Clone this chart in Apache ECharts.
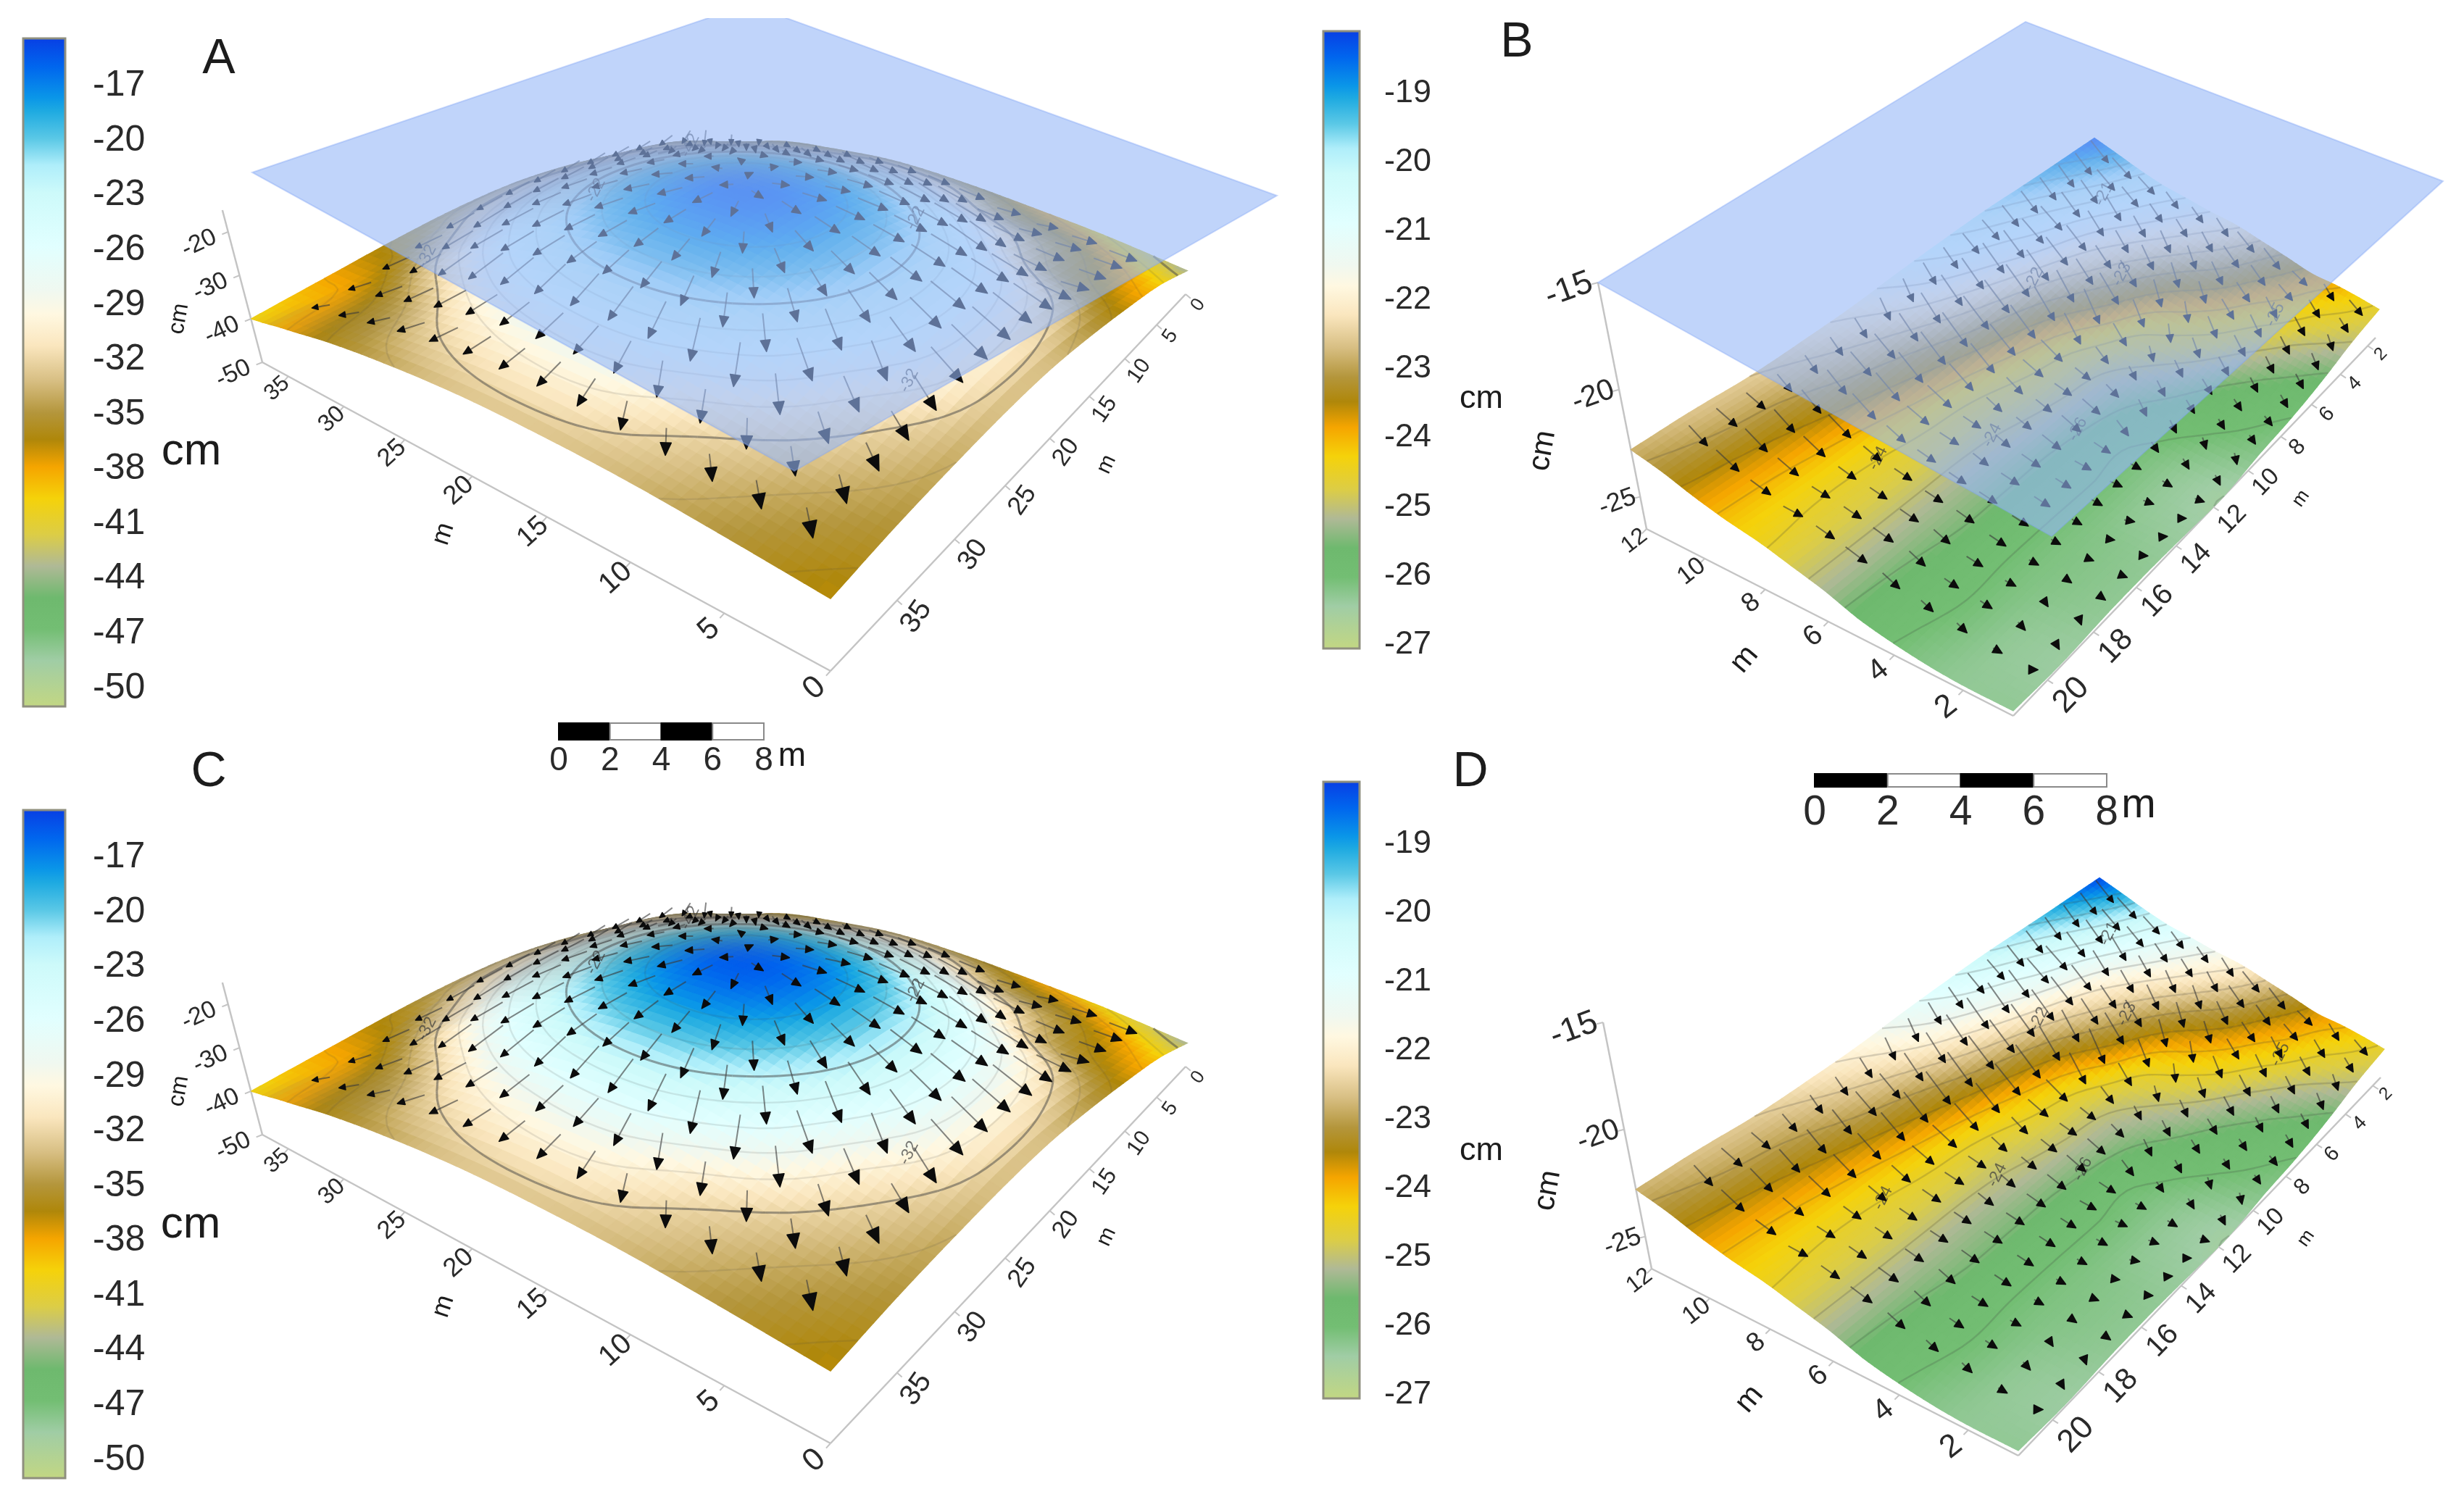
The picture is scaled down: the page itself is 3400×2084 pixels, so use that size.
<!DOCTYPE html>
<html><head><meta charset="utf-8">
<style>html,body{margin:0;padding:0;background:#fff}#c{width:3400px;height:2084px}</style>
<script src="https://cdn.jsdelivr.net/npm/echarts@6/dist/echarts.min.js"></script>
</head><body><div id="c"></div>
<script>
// ---------- values ----------
const moundA=[0,5,10,15,20,25,30,35,37.5];
const moundB=[0,5,10,15,20,25,30,35,40];
const moundHeights=[
[-43.5,-39.5,-37,-35,-33.6,-33.4,-34,-35,-36.7],
[-40,-36,-33.5,-28.2,-26.3,-27,-30.5,-33.2,-35],
[-37.5,-33.5,-27,-22.2,-20.5,-21.5,-25.2,-31,-33.6],
[-35.5,-29.5,-22.9,-18.3,-16.5,-18.1,-22.3,-28.5,-33],
[-34.5,-28.6,-22.1,-17.7,-15.8,-17.7,-22.1,-28.6,-33],
[-35.5,-30.3,-24.3,-20.2,-18.7,-20.2,-24.3,-30.3,-34],
[-37.5,-33,-28.8,-25,-23.8,-25,-28.8,-34,-35.8],
[-43,-36.5,-33.3,-31.6,-30.6,-31.6,-34.5,-37.5,-38.5],
[-44.5,-42,-37.5,-35,-34,-34.5,-36,-38,-40]];
const slopeA=[0.6,2,3,4,5,6,7,8,9,10,11,12];
const slopeB=[1.4,3.4,5.4,7.4,9.4,11.4,13.4,15.4,17.4,19.4,21.4];
const slopeHeights=[
[-24.6,-25,-25.6,-26,-26.2,-26.5,-26.4,-26.3,-26.3,-26.4,-26.3],
[-24,-24.6,-25.2,-25.7,-26,-26.3,-26.3,-26.2,-26.2,-26.3,-26.3],
[-23.7,-24.1,-24.8,-25.4,-25.8,-26.1,-26.1,-26.1,-26.1,-26.1,-26.2],
[-23.1,-23.7,-24.3,-25,-25.5,-25.9,-25.9,-25.9,-25.9,-25.9,-26],
[-22.5,-23.1,-23.9,-24.7,-25.2,-25.4,-25.5,-25.5,-25.5,-25.6,-25.7],
[-21.9,-22.6,-23.5,-24.4,-24.9,-25,-25.1,-25.2,-25.2,-25.2,-25.2],
[-21.5,-22.1,-22.9,-23.6,-24.4,-24.6,-24.8,-24.8,-24.8,-24.8,-24.8],
[-21,-21.6,-22.3,-22.9,-23.6,-24,-24.3,-24.4,-24.5,-24.5,-24.4],
[-20.5,-21,-21.7,-22.2,-22.7,-23.1,-23.5,-23.8,-24,-24.1,-24.1],
[-19.8,-20.3,-20.9,-21.3,-21.8,-22.3,-22.8,-23.1,-23.4,-23.6,-23.7],
[-19,-19.6,-20.2,-20.7,-21.1,-21.6,-22.2,-22.6,-22.9,-23,-23.2],
[-18.2,-18.9,-19.5,-20,-20.6,-21.2,-21.8,-22.2,-22.5,-22.6,-22.8]];
const moundATicks=[0,5,10,15,20,25,30,35];
const moundBTicks=[0,5,10,15,20,25,30,35];
const moundZTicks=[-50,-40,-30,-20];
const slopeATicks=[2,4,6,8,10,12];
const slopeBTicks=[2,4,6,8,10,12,14,16,18,20];
const slopeZTicks=[-25,-20,-15];
const moundLegendTicks=[-17,-20,-23,-26,-29,-32,-35,-38,-41,-44,-47,-50];
const slopeLegendTicks=[-19,-20,-21,-22,-23,-24,-25,-26,-27];
const scaleTicks=[0,2,4,6,8];
const moundContours=[-18,-20,-22,-24,-26,-28,-30,-32,-34,-36,-38,-40,-42,-44];
const moundMajor=[-22,-32,-42];
const slopeContours=[-19,-19.5,-20,-20.5,-21,-21.5,-22,-22.5,-23,-23.5,-24,-24.5,-25,-25.5,-26,-26.5];
const slopeMajor=[];
const moundArrowA=[2.5,5,7.5,10,12.5,15,17.5,20,22.5,25,27.5,30,32.5,35];
const moundArrowB=[2.5,5,7.5,10,12.5,15,17.5,20,22.5,25,27.5,30,32.5,35,37.5];
const slopeArrowA=[1,2,3,4,5,6,7,8,9,10,11];
const slopeArrowB=[2,3,4,5,6,7,8,9,10,11,12,13,14,15,16,17,18,19,20];
const moundContourLabels=[[27,23,-22],[11,14,-22],[33,31,-32],[4,27,-32],[36,3,-42]];
const slopeContourLabels=[[8,17,-24],[5,12,-26],[9.2,8.4,-22],[7.5,6,-23],[10,3.5,-21],[6.5,14,-24],[3,4,-25]];

// ---------- colours of the legend bar ----------
const rampPos=[0,.044,.09,.11,.151,.191,.232,.312,.379,.413,.46,.513,.56,.60,.641,.688,.742,.789,.836,.883,.93,1];
const rampCol=[[8,62,228],[0,102,238],[10,150,232],[30,170,225],[90,200,230],[175,238,250],[205,250,250],[225,255,255],[240,248,240],[255,248,225],[250,230,190],[215,190,130],[180,150,60],[175,135,10],[245,165,0],[245,210,10],[220,205,70],[175,185,150],[110,185,110],[115,190,115],[160,205,165],[195,215,130]];
function ramp(t,g){
  t=Math.max(0,Math.min(1,t));
  let i=1; while(i<rampPos.length-1&&rampPos[i]<t)i++;
  const f=(t-rampPos[i-1])/(rampPos[i]-rampPos[i-1]),p=rampCol[i-1],q=rampCol[i];
  const m=c=>Math.round((p[c]+(q[c]-p[c])*f)*(1-g)+120*g);
  return 'rgb('+m(0)+','+m(1)+','+m(2)+')';
}
const FONT='Liberation Sans',INK='#2a2a2a';

// ---------- surfaces ----------
const mound={A:moundA,B:moundB,H:moundHeights,top:-14.4,bot:-51,levels:moundContours,major:moundMajor,labels:moundContourLabels,
  arrowA:moundArrowA,arrowB:moundArrowB,arrowK:1.45,arrowMax:2.4,arrowPow:.5,rise:1.7,riseMin:.8,headA:.02,headB:.017,headPow:2,shade:.58,aT:moundATicks,bT:moundBTicks,zT:moundZTicks,N:64};
const slope={A:slopeA,B:slopeB,H:slopeHeights,top:-18.1,bot:-27.06,levels:slopeContours,major:slopeMajor,labels:slopeContourLabels,
  arrowA:slopeArrowA,arrowB:slopeArrowB,arrowK:1.3,arrowMax:1.1,arrowPow:1,rise:1,riseMin:0,headA:.19,headB:.18,headPow:1,shade:0,aT:slopeATicks,bT:slopeBTicks,zT:slopeZTicks,N:64};
function frac(nodes,v){let i=0;while(i<nodes.length-2&&nodes[i+1]<v)i++;return i+(v-nodes[i])/(nodes[i+1]-nodes[i]);}
function cub(p0,p1,p2,p3,t){return p1+.5*t*(p2-p0+t*(2*p0-5*p1+4*p2-p3+t*(3*(p1-p2)+p3-p0)));}
function rowAt(H,i,j){
  const n=H[0].length; i=Math.max(-1,Math.min(H.length,i));
  const r=i<0?null:i>=H.length?null:H[i];
  if(r){ if(j<0)return 2*r[0]-r[1]; if(j>=n)return 2*r[n-1]-r[n-2]; return r[j]; }
  const k=i<0?0:H.length-1,m=i<0?1:H.length-2;
  return 2*rowAt(H,k,j)-rowAt(H,m,j);
}
function zAt(S,a,b){
  const fi=frac(S.A,Math.max(S.A[0],Math.min(S.A[S.A.length-1],a))),fj=frac(S.B,Math.max(S.B[0],Math.min(S.B[S.B.length-1],b)));
  const i=Math.min(Math.floor(fi),S.A.length-2),j=Math.min(Math.floor(fj),S.B.length-2),u=fi-i,v=fj-j,c=[];
  for(let k=-1;k<3;k++)c.push(cub(rowAt(S.H,i+k,j-1),rowAt(S.H,i+k,j),rowAt(S.H,i+k,j+1),rowAt(S.H,i+k,j+2),v));
  return cub(c[0],c[1],c[2],c[3],u);
}
function buildMesh(S){
  const N=S.N,a0=S.A[0],a1=S.A[S.A.length-1],b0=S.B[0],b1=S.B[S.B.length-1];
  const as=[],bs=[],Z=[];
  for(let i=0;i<=N;i++)as.push(a0+(a1-a0)*i/N);
  for(let j=0;j<=N;j++)bs.push(b0+(b1-b0)*j/N);
  for(let i=0;i<=N;i++){Z.push([]);for(let j=0;j<=N;j++)Z[i].push(zAt(S,as[i],bs[j]));}
  S.cells=[];S.segs=[];
  for(let i=N-1;i>=0;i--)for(let j=0;j<N;j++){
    S.cells.push([as[i],as[i+1],bs[j],bs[j+1],Z[i][j],Z[i+1][j],Z[i+1][j+1],Z[i][j+1]]);
  }
  for(let i=0;i<N;i++)for(let j=0;j<N;j++){
    const q=[[as[i],bs[j],Z[i][j]],[as[i+1],bs[j],Z[i+1][j]],[as[i+1],bs[j+1],Z[i+1][j+1]],[as[i],bs[j+1],Z[i][j+1]]];
    S.levels.forEach(L=>{
      const pts=[];
      for(let e=0;e<4;e++){const p=q[e],r=q[(e+1)%4];
        if((p[2]<L)!==(r[2]<L)){const f=(L-p[2])/(r[2]-p[2]);pts.push([p[0]+(r[0]-p[0])*f,p[1]+(r[1]-p[1])*f]);}}
      if(pts.length>=2)S.segs.push([pts[0][0],pts[0][1],pts[1][0],pts[1][1],L,S.major.includes(L)?1:0]);
    });
  }
}
buildMesh(mound);buildMesh(slope);

// ---------- 3D frames (layout only) : right, back, left, front corners ----------
function homography(q){
  const [x0,y0]=q[0],[x1,y1]=q[1],[x2,y2]=q[2],[x3,y3]=q[3];
  const dx1=x1-x2,dx2=x3-x2,dx3=x0-x1+x2-x3,dy1=y1-y2,dy2=y3-y2,dy3=y0-y1+y2-y3,den=dx1*dy2-dx2*dy1;
  const g=(dx3*dy2-dx2*dy3)/den,h=(dx1*dy3-dx3*dy1)/den;
  const A=x1-x0+g*x1,B=x3-x0+h*x3,D=y1-y0+g*y1,E=y3-y0+h*y3;
  return (s,t)=>{const w=g*s+h*t+1;return [(A*s+B*t+x0)/w,(D*s+E*t+y0)/w];};
}
function shift(q,dx,dy){return q.map(p=>[p[0]+dx,p[1]+dy]);}
const moundBase=[[1636,406],[965,226],[362,500],[1146,926]],moundTop=[[1651,206],[962,34],[299,260],[1146,626]];
const slopeBase=[[3278,466],[2859,319],[2272,730],[2778,988]],slopeTop=[[3308,230],[2902,141],[2205,390],[2778,586]];
const moundTxt={aF:[44,30],bF:[42,26],zF:[34,34],aOff:[-22,24],bOff:[28,24],zOff:[-40,16],aRot:42,bRot:55,zRot:25};
const slopeTxt={aF:[46,32],bF:[46,24],zF:[36,46],aOff:[-24,24],bOff:[34,22],zOff:[-40,10],aRot:38,bRot:46,zRot:20};
const panels=[
 {S:mound,base:moundBase,top:moundTop,zB:-50,zT:-10,zAxisTop:-15,txt:moundTxt,rect:[200,25,1600,1015],plane:[[1762,270],[1033,6],[348,238],[1096,650]]},
 {S:slope,base:slopeBase,top:slopeTop,zB:-26.5,zT:-15,zAxisTop:-15,txt:slopeTxt,rect:[2000,0,1400,1050],plane:[[3371,250],[2795,30],[2205,390],[2831,740]]},
 {S:mound,base:shift(moundBase,0,1066),top:shift(moundTop,0,1066),zB:-50,zT:-10,zAxisTop:-15,txt:moundTxt,rect:[200,1040,1600,1044]},
 {S:slope,base:shift(slopeBase,7,1021),top:shift(slopeTop,7,1021),zB:-26.5,zT:-15,zAxisTop:-15,txt:slopeTxt,rect:[2000,1050,1400,1034]}
];
panels.forEach(p=>{
  const hb=homography(p.base),ht=homography(p.top),S=p.S;
  const a0=S.A[0],a1=S.A[S.A.length-1],b0=S.B[0],b1=S.B[S.B.length-1];
  p.a0=a0;p.a1=a1;p.b0=b0;p.b1=b1;
  p.P=(a,b,z)=>{const s=(a-a0)/(a1-a0),t=(b-b0)/(b1-b0),u=hb(s,t),v=ht(s,t),f=(z-p.zB)/(p.zT-p.zB);return [u[0]+(v[0]-u[0])*f,u[1]+(v[1]-u[1])*f];};
});

// ---------- series ----------
const grids=[],xAxes=[],yAxes=[],series=[];
function addGrid(r,x,y){grids.push({left:r[0],top:r[1],width:r[2],height:r[3],containLabel:false});
  xAxes.push(Object.assign({gridIndex:grids.length-1},x));yAxes.push(Object.assign({gridIndex:grids.length-1},y));return grids.length-1;}
const custom=(g,data,render,extra)=>Object.assign({type:'custom',coordinateSystem:'cartesian2d',xAxisIndex:g,yAxisIndex:g,data,renderItem:render,animation:false,silent:true,progressive:0,clip:false},extra||{});

panels.forEach((p,ix)=>{
  const r=p.rect,S=p.S;
  const g=addGrid(r,{type:'value',min:r[0],max:r[0]+r[2],show:false},{type:'value',inverse:true,min:r[1],max:r[1]+r[3],show:false});
  // axes under the surface
  const lines=[[0],[1],[2]];
  series.push(custom(g,lines,(pr,api)=>{
    const k=api.value(0);let e;
    if(k==0)e=[p.P(p.a0,p.b1,p.zB),p.P(p.a1,p.b1,p.zB)];
    if(k==1)e=[p.P(p.a0,p.b1,p.zB),p.P(p.a0,p.b0,p.zB)];
    if(k==2)e=[p.P(p.a1,p.b1,p.zB),p.P(p.a1,p.b1,p.zAxisTop)];
    const c0=api.coord(e[0]),c1=api.coord(e[1]);
    return {type:'line',shape:{x1:c0[0],y1:c0[1],x2:c1[0],y2:c1[1]},style:{stroke:'#c4c4c4',lineWidth:2.5,fill:null}};
  },{z:1}));
  // surface
  series.push(custom(g,S.cells,(pr,api)=>{
    const a0=api.value(0),a1=api.value(1),b0=api.value(2),b1=api.value(3),z0=api.value(4),z1=api.value(5),z2=api.value(6),z3=api.value(7);
    const za=((z1+z2)-(z0+z3))/(2*(a1-a0)),zb=((z2+z3)-(z0+z1))/(2*(b1-b0));
    const drop=Math.max(0,Math.min(1,-(za-zb)/1.6));
    const c=ramp(((z0+z1+z2+z3)/4-S.top)/(S.bot-S.top),S.shade*drop);
    return {type:'polygon',shape:{points:[api.coord(p.P(a0,b0,z0)),api.coord(p.P(a1,b0,z1)),api.coord(p.P(a1,b1,z2)),api.coord(p.P(a0,b1,z3))]},style:{fill:c,stroke:c,lineWidth:1.2}};
  },{z:2}));
  // contours
  series.push(custom(g,S.segs,(pr,api)=>{
    const L=api.value(4),m=api.value(5),c0=api.coord(p.P(api.value(0),api.value(1),L)),c1=api.coord(p.P(api.value(2),api.value(3),L));
    const st=S===mound?(m?'rgba(70,70,70,.5)':'rgba(70,70,70,.13)'):'rgba(60,60,60,.2)';
    return {type:'line',shape:{x1:c0[0],y1:c0[1],x2:c1[0],y2:c1[1]},style:{stroke:st,lineWidth:m?3:2.4,fill:null}};
  },{z:3}));
  // contour labels
  series.push(custom(g,S.labels,(pr,api)=>{
    const a=api.value(0),b=api.value(1),c=api.coord(p.P(a,b,zAt(S,a,b)));
    return {type:'text',x:c[0],y:c[1],rotation:1.1,style:{text:String(api.value(2)),fontSize:23,fontFamily:FONT,fill:'rgba(60,60,60,.7)',align:'center',verticalAlign:'middle'}};
  },{z:4}));
  // arrows: head on the node, stem running back up the slope
  const arrows=[];S.arrowA.forEach(a=>S.arrowB.forEach(b=>arrows.push([a,b])));
  series.push(custom(g,arrows,(pr,api)=>{
    const a=api.value(0),b=api.value(1),h=.2;
    const clampA=v=>Math.max(p.a0,Math.min(p.a1,v)),clampB=v=>Math.max(p.b0,Math.min(p.b1,v));
    const ga=(zAt(S,clampA(a+h),b)-zAt(S,clampA(a-h),b))/(clampA(a+h)-clampA(a-h)),gb=(zAt(S,a,clampB(b+h))-zAt(S,a,clampB(b-h)))/(clampB(b+h)-clampB(b-h));
    const grad=Math.hypot(ga,gb)||1e-6;
    let len=Math.min(S.arrowMax,S.arrowK*Math.pow(grad,S.arrowPow));
    const da=ga/grad*len,db=gb/grad*len,z=zAt(S,a,b);
    const e=api.coord(p.P(a,b,z)),s=api.coord(p.P(clampA(a+da),clampB(b+db),z+S.rise*Math.max(grad,S.riseMin)*len));
    const u1=api.coord(p.P(Math.min(a+.5,p.a1),b,z)),u2=api.coord(p.P(Math.min(a+.5,p.a1)-1,b,z));
    const local=Math.hypot(u1[0]-u2[0],u1[1]-u2[1]);
    let dx=e[0]-s[0],dy=e[1]-s[1],d=Math.hypot(dx,dy);
    if(d<1){dx=0;dy=1;d=1;}else{dx/=d;dy/=d;}
    const L=S.headA*Math.pow(local,S.headPow)+2.5,W=S.headB*Math.pow(local,S.headPow)+2.5;
    return {type:'group',children:[
      {type:'line',shape:{x1:s[0],y1:s[1],x2:e[0],y2:e[1]},style:{stroke:'rgba(60,60,60,.62)',lineWidth:2,fill:null}},
      {type:'polygon',shape:{points:[[e[0]+dx*L*.5,e[1]+dy*L*.5],[e[0]-dx*L*.5-dy*W/2,e[1]-dy*L*.5+dx*W/2],[e[0]-dx*L*.5+dy*W/2,e[1]-dy*L*.5-dx*W/2]]},style:{fill:'#0c0c0c',stroke:'#0c0c0c',lineWidth:1.5,lineJoin:'round'}}
    ]};
  },{z:5}));
  // tick labels
  const T=p.txt,lerp=(q,f)=>q[0]+(q[1]-q[0])*f;
  const ticks=[];S.aT.forEach(v=>ticks.push([0,v]));S.bT.forEach(v=>ticks.push([1,v]));S.zT.forEach(v=>ticks.push([2,v]));
  series.push(custom(g,ticks,(pr,api)=>{
    const k=api.value(0),v=api.value(1);let base,font,off,rot;
    if(k==0){base=p.P(v,p.b1,p.zB);font=lerp(T.aF,(v-p.a0)/(p.a1-p.a0));off=T.aOff.map(o=>o*font/T.aF[0]);rot=T.aRot;}
    if(k==1){base=p.P(p.a0,v,p.zB);font=lerp(T.bF,(p.b1-v)/(p.b1-p.b0));off=T.bOff.map(o=>o*font/T.bF[0]);rot=T.bRot;}
    if(k==2){base=p.P(p.a1,p.b1,v);font=lerp(T.zF,(v-S.zT[0])/(S.zT[S.zT.length-1]-S.zT[0]));off=T.zOff.map(o=>o*font/T.zF[1]);rot=T.zRot;}
    const c=api.coord(base);
    const d=Math.hypot(off[0],off[1]),te=[c[0]+off[0]/d*9,c[1]+off[1]/d*9];
    return {type:'group',children:[
      {type:'line',shape:{x1:c[0],y1:c[1],x2:te[0],y2:te[1]},style:{stroke:'#c4c4c4',lineWidth:2,fill:null}},
      {type:'text',x:c[0]+off[0],y:c[1]+off[1],rotation:rot*Math.PI/180,style:{text:String(v),fontSize:font,fontFamily:FONT,fill:INK,align:'center',verticalAlign:'middle'}}
    ]};
  },{z:6}));
  // reference plane
  if(p.plane){
    const hp=homography(p.plane);
    series.push(custom(g,[[0,1,0,1]],(pr,api)=>{
      const s0=api.value(0),s1=api.value(1),t0=api.value(2),t1=api.value(3);
      return {type:'polygon',shape:{points:[hp(s0,t0),hp(s1,t0),hp(s1,t1),hp(s0,t1)].map(q=>api.coord(q))},style:{fill:'rgba(150,183,247,.6)',stroke:'rgba(130,165,245,.4)',lineWidth:2}};
    },{z:7,clip:true}));
  }
});

// legends
function legend(rect,lo,hi,ticks,fs,margin){
  const g=addGrid(rect,{type:'value',min:0,max:1,show:false},{
    type:'value',position:'right',min:lo,max:hi,splitLine:{show:false},axisLine:{show:false},
    axisTick:{show:true,customValues:ticks,length:26,lineStyle:{color:'#a8a8a8',width:3}},
    axisLabel:{show:true,customValues:ticks,fontSize:fs,fontFamily:FONT,color:INK,margin:margin,formatter:v=>String(v)}});
  const stops=rampPos.map((o,i)=>({offset:o,color:'rgb('+rampCol[i].join(',')+')'}));
  series.push(custom(g,[[0,1,lo,hi]],(pr,api)=>{
    const c0=api.coord([api.value(0),api.value(3)]),c1=api.coord([api.value(1),api.value(2)]);
    return {type:'rect',shape:{x:c0[0],y:c0[1],width:c1[0]-c0[0],height:c1[1]-c0[1]},style:{fill:new echarts.graphic.LinearGradient(0,0,0,1,stops),stroke:'#8f8f7f',lineWidth:3}};
  },{z:2}));
}
legend([32,53,58,922],-51,-14.4,moundLegendTicks,50,38);
legend([32,1118,58,922],-51,-14.4,moundLegendTicks,50,38);
legend([1826,43,50,852],-27.06,-18.1,slopeLegendTicks,45,34);
legend([1826,1079,50,851],-27.06,-18.1,slopeLegendTicks,45,34);

// scale bars
function scaleBar(rect,fs,margin){
  const g=addGrid(rect,{type:'value',min:scaleTicks[0],max:scaleTicks[4],interval:2,splitLine:{show:false},axisLine:{show:false},axisTick:{show:false},
    axisLabel:{show:true,fontSize:fs,fontFamily:FONT,color:INK,margin:margin,showMinLabel:true,showMaxLabel:true}},{type:'value',min:0,max:1,show:false});
  const segs=scaleTicks.slice(0,-1).map((v,i)=>[v,scaleTicks[i+1],i%2]);
  series.push(custom(g,segs,(pr,api)=>{
    const c0=api.coord([api.value(0),1]),c1=api.coord([api.value(1),0]);
    return {type:'rect',shape:{x:c0[0],y:c0[1],width:c1[0]-c0[0],height:c1[1]-c0[1]},style:{fill:api.value(2)?'#fff':'#000',stroke:api.value(2)?'#8a8a8a':'#000',lineWidth:2}};
  },{z:2}));
}
scaleBar([771,998,283,23],46,6);
scaleBar([2504,1068,403,18],57,8);

// text that belongs to the page layout
const txt=(x,y,text,size,rot)=>({type:'text',x,y,rotation:(rot||0)*Math.PI/180,z:20,silent:true,style:{text,fontSize:size,fontFamily:FONT,fill:'#1c1c1c',align:'center',verticalAlign:'middle'}});
const graphic=[
 txt(302,82,'A',68),txt(2093,59,'B',68),txt(288,1066,'C',68),txt(2029,1066,'D',68),
 txt(264,624,'cm',62),txt(263,1691,'cm',62),txt(2044,551,'cm',45),txt(2044,1589,'cm',45),
 txt(1093,1044,'m',46),txt(2951,1112,'m',57),
 txt(612,737,'m',36,72),txt(1527,641,'m',30,65),txt(247,440,'cm',32,80),
 txt(612,1803,'m',36,72),txt(1527,1707,'m',30,65),txt(247,1506,'cm',32,80),
 txt(2407,910,'m',42,50),txt(3175,688,'m',26,55),txt(2129,622,'cm',42,80),
 txt(2414,1931,'m',42,50),txt(3182,1709,'m',26,55),txt(2136,1643,'cm',42,80)
];

const chart=echarts.init(document.getElementById('c'),null,{renderer:'canvas',width:3400,height:2084});
chart.setOption({animation:false,backgroundColor:'#fff',tooltip:{show:false},grid:grids,xAxis:xAxes,yAxis:yAxes,series:series,graphic:{elements:graphic}});
</script></body></html>
